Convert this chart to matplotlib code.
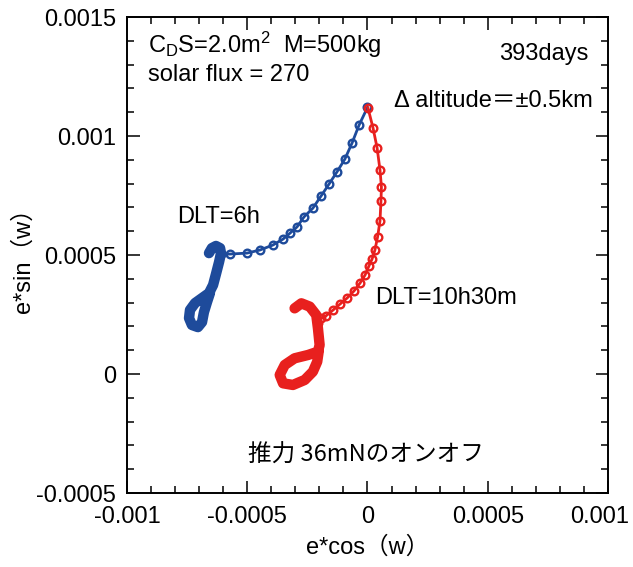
import matplotlib
matplotlib.use("Agg")
import matplotlib.pyplot as plt
import matplotlib.transforms as mtransforms
from matplotlib.ticker import MultipleLocator

plt.rcParams['font.family'] = ['Liberation Sans', 'Noto Sans CJK JP']
plt.rcParams['mathtext.default'] = 'regular'

# DLT=6h (blue): arc from the peak down to the loop, then the loop itself
blue_arc_x = [0.0, -0.000035, -0.000064, -0.000094, -0.000127, -0.00016, -0.000193,
              -0.000227, -0.000264, -0.000293, -0.000322, -0.000351, -0.000393,
              -0.000447, -0.000501, -0.000572, -0.000609]
blue_arc_y = [0.00112, 0.001046, 0.000971, 0.000903, 0.000849, 0.000798, 0.000748,
              0.000697, 0.00066, 0.000618, 0.000592, 0.000567, 0.000542,
              0.000521, 0.000508, 0.000504, 0.000504]
blue_loop_x = [-0.000659, -0.000647, -0.00063, -0.000613, -0.000609, -0.000617, -0.00063,
               -0.000642, -0.000659, -0.000688, -0.000717, -0.000738, -0.000742,
               -0.00073, -0.000705, -0.000688, -0.00068, -0.000667, -0.000655]
blue_loop_y = [0.000508, 0.000529, 0.000538, 0.000529, 0.000508, 0.000471, 0.00042,
               0.000374, 0.00034, 0.000319, 0.000298, 0.000269, 0.000235,
               0.000206, 0.000197, 0.000218, 0.00026, 0.000303, 0.00034]

# DLT=10h30m (red)
red_arc_x = [0.000002, 0.000023, 0.00004, 0.000052, 0.000058, 0.000056, 0.000052,
             0.000042, 0.000031, 0.000019, 0.000006, -0.00001, -0.000031, -0.000056,
             -0.000085, -0.000114, -0.000143, -0.000173, -0.000193, -0.000206]
red_arc_y = [0.001118, 0.001034, 0.00095, 0.000857, 0.000786, 0.000727, 0.000643,
             0.000576, 0.000521, 0.000483, 0.000454, 0.000416, 0.000382, 0.000349,
             0.000319, 0.000294, 0.000269, 0.000244, 0.000235, 0.000215]
red_loop_x = [-0.000303, -0.000275, -0.00024, -0.000213, -0.000206, -0.000199, -0.000206,
              -0.000247, -0.000303, -0.000344, -0.000365, -0.000351, -0.00031,
              -0.000261, -0.000227, -0.000209, -0.000203]
red_loop_y = [0.000276, 0.000297, 0.000283, 0.000248, 0.000192, 0.000122, 0.000094,
              0.00008, 0.000066, 0.000038, -0.000004, -0.000039, -0.000046,
              -0.000025, 0.00001, 0.000052, 0.000094]

x_ticks = [-0.001, -0.0005, 0, 0.0005, 0.001]
x_labels = ["-0.001", "-0.0005", "0", "0.0005", "0.001"]
y_ticks = [-0.0005, 0, 0.0005, 0.001, 0.0015]
y_labels = ["-0.0005", "0", "0.0005", "0.001", "0.0015"]

blue = "#1E4B9B"
red = "#E8201E"
fs = 17

fig = plt.figure(figsize=(6.33, 5.67), dpi=100)
ax = fig.add_axes([0.2006, 0.1305, 0.7599, 0.8395])

for arc_x, arc_y, loop_x, loop_y, c in [
        (blue_arc_x, blue_arc_y, blue_loop_x, blue_loop_y, blue),
        (red_arc_x, red_arc_y, red_loop_x, red_loop_y, red)]:
    ax.plot(arc_x, arc_y, color=c, lw=2, marker='o', ms=5.5, mfc='none', mew=1.7)
    ax.plot(loop_x, loop_y, color=c, lw=7.5, solid_capstyle='round', solid_joinstyle='round')

ax.set_xlim(-0.001, 0.001)
ax.set_ylim(-0.0005, 0.0015)
ax.set_xticks(x_ticks)
ax.set_xticklabels(x_labels)
ax.set_yticks(y_ticks)
ax.set_yticklabels(y_labels)
ax.xaxis.set_minor_locator(MultipleLocator(0.0001))
ax.yaxis.set_minor_locator(MultipleLocator(0.0001))
ax.tick_params(which='both', direction='in', top=True, right=True, width=1.1, labelsize=fs)
ax.tick_params(which='major', length=9)
ax.tick_params(which='minor', length=5)
ax.tick_params(axis='x', pad=9)
ax.tick_params(axis='y', pad=8)
for s in ax.spines.values():
    s.set_linewidth(1.4)

# the last x label sits a little left of its tick so it stays inside the figure
last = ax.get_xticklabels()[-1]
last.set_transform(last.get_transform() +
                   mtransforms.ScaledTranslation(-8 / 100, 0, fig.dpi_scale_trans))

ax.set_xlabel("e*cos（w）", fontsize=fs, labelpad=6)
ax.set_ylabel("e*sin（w）", fontsize=fs, labelpad=1)

ax.text(-0.000913, 0.001349, r"C$_{D}$S=2.0m$^{2}$  M=500kg", fontsize=fs)
ax.text(-0.000913, 0.001231, "solar flux = 270", fontsize=fs)
ax.text(0.000917, 0.001319, "393days", fontsize=fs, ha='right')
ax.text(0.000938, 0.001122, "Δ altitude＝±0.5km", fontsize=fs, ha='right')
ax.text(-0.000792, 0.000634, "DLT=6h", fontsize=fs)
ax.text(0.000031, 0.000294, "DLT=10h30m", fontsize=fs)
ax.text(-0.000497, -0.00037, "推力 36mNのオンオフ", fontsize=fs,
        family=['Noto Sans CJK JP', 'Liberation Sans'])

fig.savefig("out.png", dpi=100)
